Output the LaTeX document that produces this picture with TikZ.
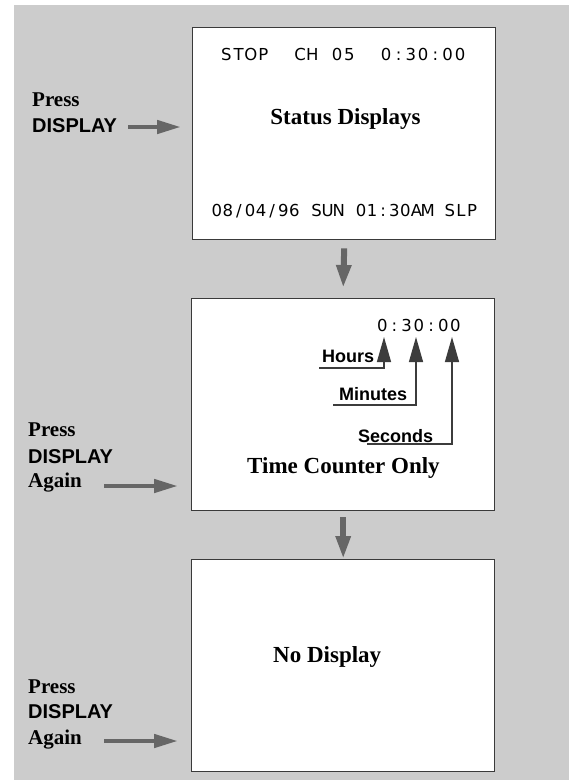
\documentclass[tikz,border=0pt]{standalone}
\usepackage{fontspec}
\setmainfont{Liberation Serif}
\newfontfamily\labsans{Liberation Sans}
\newfontfamily\lcdfont{DejaVu Sans}
\usetikzlibrary{arrows.meta}
\makeatletter
\newcommand\lcdtext[2]{\@tfor\lcdc:=#2\do{\makebox[#1][c]{\lcdc}}}
\makeatother
\definecolor{bg}{HTML}{CCCCCC}
\definecolor{arr}{HTML}{666666}
\definecolor{framec}{HTML}{3A3A3A}
\definecolor{callc}{HTML}{3C3C3C}
\begin{document}
\begin{tikzpicture}[x=1pt,y=-1pt,
  screen/.style={draw=framec,line width=1.4pt,fill=white,minimum width=303pt,minimum height=212pt,inner sep=0pt,anchor=north west},
  title/.style={inner sep=0pt,anchor=base,font=\fontsize{23}{27}\selectfont\bfseries},
  presslab/.style={inner sep=0pt,anchor=base west,font=\fontsize{21}{25}\selectfont\bfseries},
  keylab/.style={inner sep=0pt,anchor=base west,font=\labsans\fontsize{20}{24}\selectfont\bfseries},
  unitlab/.style={inner sep=0pt,anchor=base west,font=\labsans\fontsize{18}{22}\selectfont\bfseries},
  lcd/.style={inner sep=0pt,anchor=base west,font=\lcdfont\fontsize{16.5}{19}\selectfont},
  rightarrow/.style={draw=arr,line width=4.5pt,-{Triangle[length=24pt,width=13pt]}},
  downarrow/.style={draw=arr,line width=6pt,-{Triangle[length=23pt,width=14pt]}},
  callout/.style={draw=callc,line width=1.3pt,-{Triangle[length=25pt,width=14pt]}}]
\useasboundingbox (0,0) rectangle (569,780);
\fill[bg] (14,5) rectangle (569,780);
% screens
\node[screen] (b1) at (192,27) {};
\node[screen] (b2) at (191,298) {};
\node[screen] (b3) at (191,559) {};
% screen 1
\node[lcd] (s1top) at (220,60) {\lcdtext{12.3pt}{STOP~~CH~05~~0:30:00}};
\node[title] (s1title) at (345.5,124) {Status Displays};
\node[lcd] (s1bot) at (211,216) {\lcdtext{11.1pt}{08/04/96~SUN~01:30AM~SLP}};
% screen 2
\node[lcd] (s2time) at (376,331) {\lcdtext{12.2pt}{0:30:00}};
\node[unitlab] (hrs) at (322,362) {Hours};
\node[unitlab] (mins) at (339,400) {Minutes};
\node[unitlab] (secs) at (358,442) {Seconds};
\coordinate (hstart) at (319,368);
\coordinate (mstart) at (333,405);
\coordinate (sstart) at (367,444);
\coordinate (hdig) at (384,337);
\coordinate (mdig) at (416,337);
\coordinate (sdig) at (452,337);
\draw[callout] (hstart) -| (hdig);
\draw[callout] (mstart) -| (mdig);
\draw[callout] (sstart) -| (sdig);
\node[title] (s2title) at (343.5,473) {Time Counter Only};
% screen 3
\node[title,anchor=base west] (s3title) at (273,662) {No Display};
% down arrows
\draw[downarrow] ([yshift=-8pt]b1.south) -- ([yshift=10pt]b2.north);
\draw[downarrow] ([yshift=-6pt]b2.south) -- (b3.north);
% left labels 1
\node[presslab] (p1) at (32,106) {Press};
\node[keylab] (k1) at (32,132) {DISPLAY};
\coordinate (a1) at (128,127);
\draw[rightarrow,shorten >=11pt] (a1) -- (b1.west |- a1);
% left labels 2
\node[presslab] (p2) at (28,436) {Press};
\node[keylab] (k2) at (28,463) {DISPLAY};
\node[presslab] (g2) at (28,487) {Again};
\coordinate (a2) at (104,486);
\draw[rightarrow,shorten >=13pt] (a2) -- (b2.west |- a2);
% left labels 3
\node[presslab] (p3) at (28,693) {Press};
\node[keylab] (k3) at (28,718) {DISPLAY};
\node[presslab] (g3) at (28,744) {Again};
\coordinate (a3) at (104,741);
\draw[rightarrow,shorten >=13pt] (a3) -- (b3.west |- a3);
\end{tikzpicture}
\end{document}
